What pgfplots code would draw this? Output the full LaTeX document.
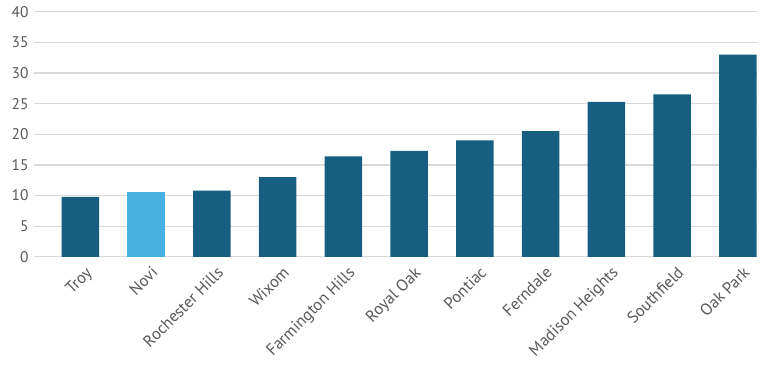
\documentclass[border=0pt]{standalone}
\usepackage{pgfplots}
\pgfplotsset{compat=1.18}
\usepackage{fontspec}
\setmainfont{PT Sans}
\definecolor{darkbar}{RGB}{23,95,128}
\definecolor{lightbar}{RGB}{70,176,225}
\definecolor{gridc}{RGB}{217,217,217}
\definecolor{txt}{RGB}{89,89,89}
\begin{document}
\begin{tikzpicture}
\begin{axis}[
  scale only axis,
  width=723bp, height=245bp,
  xmin=-0.71, xmax=10.29,
  ymin=0, ymax=40,
  ytick={0,5,...,40},
  xtick={0,...,10},
  xticklabels={Troy,Novi,Rochester Hills,Wixom,Farmington Hills,Royal Oak,Pontiac,Ferndale,Madison Heights,Southfield,Oak Park},
  x tick label style={rotate=45, anchor=north east, font=\fontsize{16.5}{17}\selectfont, text=txt, inner sep=1pt, xshift=-2bp, yshift=-8bp},
  y tick label style={font=\fontsize{15.5}{16}\selectfont, text=txt, inner sep=0pt, xshift=-5bp},
  /pgf/number format/assume math mode=true,
  axis x line*=bottom,
  axis y line*=left,
  x axis line style={gridc, line width=1.3bp},
  y axis line style={draw=none},
  ymajorgrids,
  grid style={gridc, line width=1.3bp},
  major tick length=0pt,
  ybar, bar width=37.5bp,
  clip=false,
]
\addplot[fill=darkbar, draw=none, bar shift=0pt] coordinates {
(0,9.8) (2,10.8) (3,13.0) (4,16.4) (5,17.3) (6,19.0) (7,20.5) (8,25.3) (9,26.5) (10,33.0)};
\addplot[fill=lightbar, draw=none, bar shift=0pt] coordinates {(1,10.5)};
\end{axis}
\pgfresetboundingbox
\path ([xshift=-33.7bp,yshift=-108.3bp]current axis.south west) rectangle ([xshift=15bp,yshift=11.7bp]current axis.north east);
\end{tikzpicture}
\end{document}
